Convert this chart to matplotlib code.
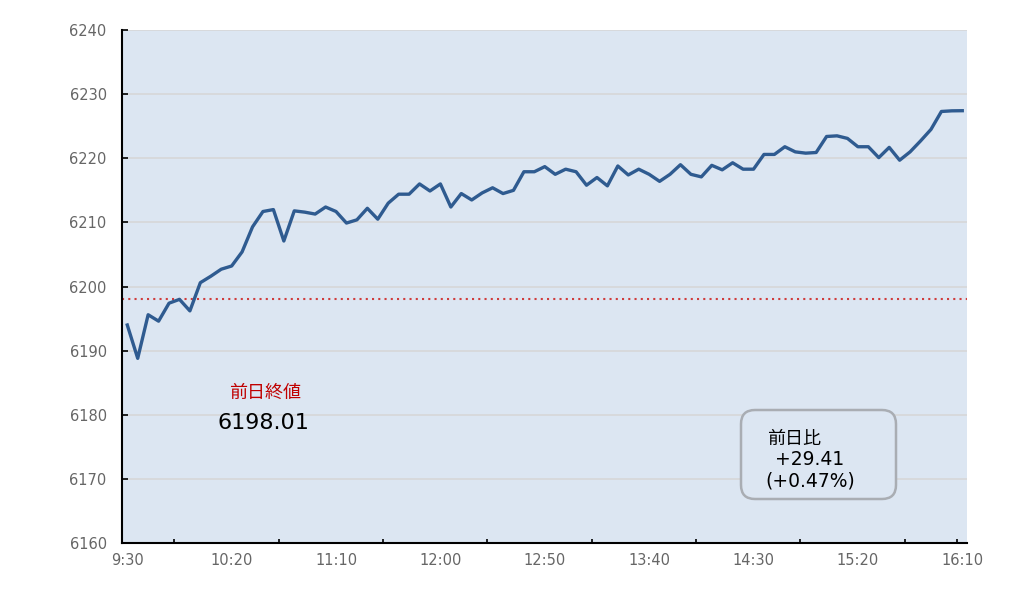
import numpy as np
import matplotlib
matplotlib.use("Agg")
import matplotlib.pyplot as plt
from matplotlib.patches import FancyBboxPatch

plt.rcParams['font.family'] = ['DejaVu Sans', 'Noto Sans CJK JP']

# Index values every 5 minutes, 9:30 .. 16:10
values = [
    6194.0, 6188.8, 6195.6, 6194.6, 6197.4, 6198.0, 6196.2, 6200.6, 6201.6, 6202.7,
    6203.2, 6205.4, 6209.3, 6211.7, 6212.0, 6207.1, 6211.8, 6211.6, 6211.3, 6212.4,
    6211.7, 6209.9, 6210.4, 6212.2, 6210.5, 6213.0, 6214.4, 6214.4, 6216.0, 6214.9,
    6216.0, 6212.4, 6214.5, 6213.5, 6214.6, 6215.4, 6214.5, 6215.0, 6217.9, 6217.9,
    6218.7, 6217.5, 6218.3, 6217.9, 6215.8, 6217.0, 6215.7, 6218.8, 6217.4, 6218.3,
    6217.5, 6216.4, 6217.5, 6219.0, 6217.5, 6217.1, 6218.9, 6218.2, 6219.3, 6218.3,
    6218.3, 6220.6, 6220.6, 6221.8, 6221.0, 6220.8, 6220.9, 6223.4, 6223.5, 6223.1,
    6221.8, 6221.8, 6220.1, 6221.7, 6219.7, 6221.0, 6222.7, 6224.5, 6227.3, 6227.4,
    6227.42,
]
prev_close = 6198.01
tick_labels = ['9:30', '10:20', '11:10', '12:00', '12:50', '13:40', '14:30', '15:20', '16:10']
y_ticks = [6160, 6170, 6180, 6190, 6200, 6210, 6220, 6230, 6240]

minutes = np.arange(len(values)) * 5  # minutes after 9:30

fig = plt.figure(figsize=(10.3, 5.96), dpi=100)
ax = fig.add_axes([0.1184, 0.0889, 0.8201, 0.8607])
ax.set_facecolor('#dce6f2')

ax.plot(minutes, values, color='#2f5b90', lw=2.4, solid_joinstyle='round', zorder=3)
ax.axhline(prev_close, color='#d03c3c', lw=1.5, linestyle=(0, (1, 2)), zorder=2)

ax.set_xlim(-2.55, 402.1)
ax.set_ylim(6160, 6240)
ax.set_yticks(y_ticks)
ax.yaxis.grid(True, color='#d6d6d6', lw=1.1)
ax.set_axisbelow(True)

ax.set_xticks(np.arange(0, 401, 50))
ax.set_xticklabels(tick_labels)
ax.set_xticks(list(np.arange(22.5, 380, 50)) + [397.5], minor=True)
ax.tick_params(axis='x', which='major', length=0, pad=7, labelsize=10.5, labelcolor='#666666')
ax.tick_params(axis='x', which='minor', direction='in', length=3, width=1.2, color='black')
ax.tick_params(axis='y', direction='in', length=4, width=1.2, pad=11, labelsize=10.5,
               labelcolor='#666666')

for side in ['top', 'right']:
    ax.spines[side].set_visible(False)
for side in ['left', 'bottom']:
    ax.spines[side].set_linewidth(1.5)

# previous close annotation
fig.text(0.2573, 0.3406, '前日終値', color='#c00000', fontsize=13, ha='center', va='center')
fig.text(0.2553, 0.2908, f'{prev_close:.2f}', color='black', fontsize=16, ha='center', va='center')

# change box
box = FancyBboxPatch((7.41, 0.97), 1.55, 0.89, boxstyle='round,pad=0,rounding_size=0.14',
                     transform=fig.dpi_scale_trans, facecolor='#dce6f2',
                     edgecolor='#a9adb3', lw=1.8, zorder=5)
fig.patches.append(box)
fig.text(0.7444, 0.2634, '前日比', fontsize=13, ha='left', va='center', zorder=6)
fig.text(0.7524, 0.2282, '+29.41', fontsize=13.5, ha='left', va='center', zorder=6)
fig.text(0.7427, 0.1930, '(+0.47%)', fontsize=13.5, ha='left', va='center', zorder=6)

fig.savefig('out.png', dpi=100)
